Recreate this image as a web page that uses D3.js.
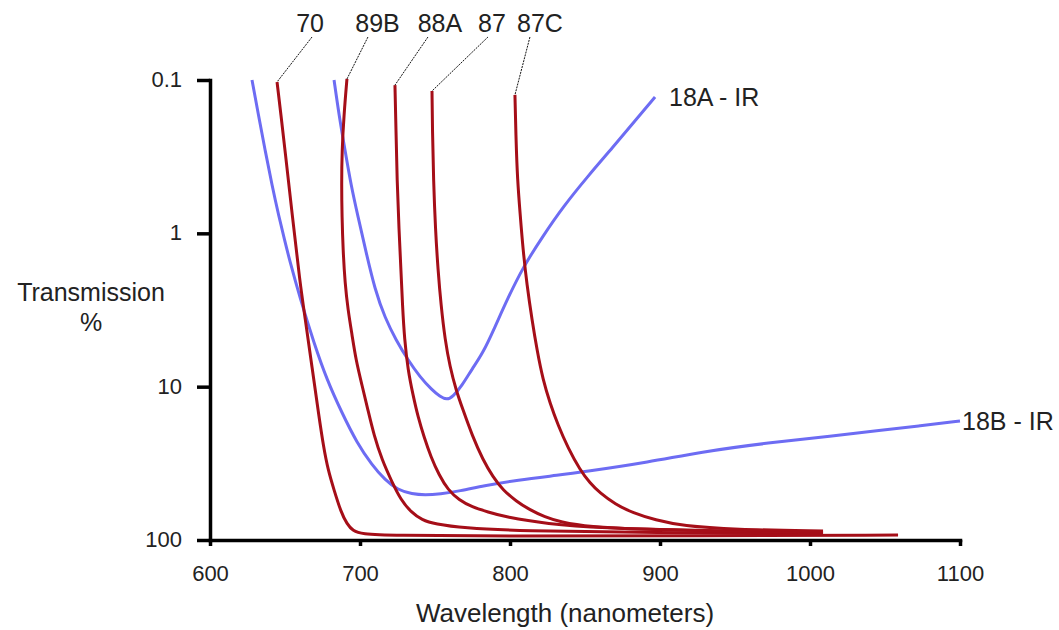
<!DOCTYPE html>
<html>
<head>
<meta charset="utf-8">
<script src="https://cdn.jsdelivr.net/npm/d3@7"></script>
<style>
  body { margin: 0; background: #fff; }
  svg { font-family: "Liberation Sans", Arial, sans-serif; }
</style>
</head>
<body>
<div id="chart"></div>
<script>
// [wavelength nm, transmission %]
const ir18A = [[682.7, 0.1], [686, 0.169], [690, 0.286], [694, 0.484], [698.7, 0.782], [704, 1.32],
  [710, 2.34], [716.7, 3.57], [724, 4.96], [732, 6.70], [740, 8.65], [748, 10.5], [753.3, 11.6],
  [758, 12.2], [762, 11.6], [768, 9.85], [774.7, 7.67], [782, 6.03], [790, 4.08], [798, 2.72],
  [808.7, 1.66], [822, 1.04], [835.3, 0.673], [852, 0.423], [868.7, 0.274], [883.3, 0.185], [896.7, 0.129]];
const ir18B = [[628, 0.1], [632.3, 0.169], [636.7, 0.286], [641.3, 0.484], [646, 0.782], [649.7, 1.105],
  [653, 1.49], [660, 2.64], [669.3, 5.19], [678, 9.05], [688, 14.85], [698, 23.3], [708, 32.4],
  [716.7, 40.6], [725.3, 47.2], [734.7, 50.1], [743.3, 50.9], [753.3, 50.1], [766.7, 47.9], [782, 44.4],
  [804.7, 40.6], [833.3, 37.7], [848.7, 36.0], [893.3, 31.0], [926.7, 26.7], [970.7, 23.3],
  [1015.3, 21.0], [1046.7, 19.2], [1073.3, 18.05], [1100, 16.75]];

const f70 = [[644.7, 0.103], [647.3, 0.169], [650, 0.286], [655, 0.782], [660, 2.11], [663.3, 3.51],
  [668, 7.44], [672.7, 15.8], [675.7, 24.7], [678.7, 34.9], [682.7, 47.2], [687.3, 65.7], [691.3, 78.6],
  [695.3, 87.4], [701.3, 91.4], [720, 93.5], [793.3, 94.2], [926.7, 94.2], [1058.7, 92.8]];
const f89B = [[691.3, 0.0985], [689.3, 0.169], [688, 0.286], [687.7, 0.484], [688, 0.782], [688.7, 1.284],
  [690, 2.11], [692, 3.16], [694.7, 4.60], [697.3, 6.70], [701.3, 9.75], [705.3, 14.2], [709.3, 20.7],
  [714.7, 30.1], [721.3, 41.8], [727.3, 54.8], [734, 65.7], [741.3, 74.0], [750, 78.6], [768.7, 83.5],
  [806.7, 87.4], [893.3, 89.4], [1008.7, 91.4]];
const f88A = [[723.3, 0.108], [724, 0.212], [724.7, 0.449], [726, 0.95], [727.3, 1.73], [728.3, 2.93],
  [729.7, 4.96], [732, 7.79], [735.3, 11.3], [738.7, 15.8], [742.7, 21.3], [747.3, 28.8], [752.7, 37.7],
  [758.7, 47.2], [766, 54.8], [774.7, 61.0], [785.3, 65.7], [796.7, 70.8], [824.7, 78.6], [860, 83.5],
  [926.7, 86.7], [1008.7, 90.0]];
const f87 = [[748, 0.118], [748.3, 0.212], [749, 0.449], [750.3, 0.95], [752, 1.73], [754, 2.93],
  [756.7, 4.96], [760, 7.44], [764, 10.5], [768.7, 14.2], [774.7, 20.7], [782, 30.1], [788.7, 38.8],
  [795.3, 47.2], [804, 55.7], [813.3, 63.7], [823.3, 70.8], [833.3, 76.3], [853.3, 82.3], [886.7, 85.4],
  [940, 87.4], [1008.7, 88.7]];
const f87C = [[803.3, 0.125], [804, 0.246], [805, 0.449], [806.7, 0.736], [808.7, 1.284], [811.3, 2.17],
  [814.7, 3.68], [818, 5.77], [822, 9.05], [826.7, 12.8], [832, 17.8], [838.7, 25.1], [846.7, 34.9],
  [853.3, 42.5], [860, 49.4], [870, 58.3], [882, 66.7], [896.7, 74.0], [915.3, 81.0], [948.7, 85.4],
  [1008.7, 87.4]];

const filterNames = ['70', '89B', '88A', '87', '87C'];
const filterLabelNm = [666.7, 711.7, 753.3, 788, 820];
const filterLeaderNm = [668, 705.3, 745.3, 785.3, 813.3];
const filterSeries = [f70, f89B, f88A, f87, f87C];

const irNames = ['18A - IR', '18B - IR'];
const irSeries = [ir18A, ir18B];

const xTicks = [600, 700, 800, 900, 1000, 1100];
const yTicks = [0.1, 1, 10, 100];

const width = 1059;
const height = 630;
const red = '#a50e18';
const blue = '#6d6cf3';

const x = d3.scaleLinear().domain([600, 1100]).range([210, 960]);
const y = d3.scaleLog().domain([0.1, 100]).range([80, 540]);

const svg = d3.select('#chart').append('svg')
    .attr('width', width)
    .attr('height', height);

const line = d3.line()
    .x((d) => x(d[0]))
    .y((d) => y(d[1]))
    .curve(d3.curveBasis);

// blue IR curves
svg.selectAll('.ir')
    .data(irSeries)
  .enter()
    .append('path')
    .attr('class', 'ir')
    .attr('d', line)
    .attr('fill', 'none')
    .attr('stroke', blue)
    .attr('stroke-width', 3);

// red filter curves
svg.selectAll('.filter')
    .data(filterSeries)
  .enter()
    .append('path')
    .attr('class', 'filter')
    .attr('d', line)
    .attr('fill', 'none')
    .attr('stroke', red)
    .attr('stroke-width', 3);

// axes
const xAxis = svg.append('g')
    .attr('transform', `translate(0,${y(100)})`)
    .call(d3.axisBottom(x).tickValues(xTicks).tickFormat(d3.format('d'))
      .tickSize(6).tickSizeOuter(0).tickPadding(19));

const yAxis = svg.append('g')
    .attr('transform', `translate(${x(600)},0)`)
    .call(d3.axisLeft(y).tickValues(yTicks).tickFormat((d) => String(d))
      .tickSize(13).tickSizeOuter(0).tickPadding(15));

[xAxis, yAxis].forEach((g) => {
  g.select('.domain').attr('stroke', '#000').attr('stroke-width', 3.5).attr('stroke-linecap', 'square');
  g.selectAll('.tick line').attr('stroke', '#000').attr('stroke-width', 3.5);
  g.selectAll('.tick text')
      .attr('fill', '#222')
      .style('font-size', '22px')
      .style('font-family', '"Liberation Sans", Arial, sans-serif');
});
yAxis.selectAll('.tick text').attr('dy', '0.3em');

// axis titles
svg.append('text')
    .attr('x', 565)
    .attr('y', 622)
    .attr('text-anchor', 'middle')
    .attr('fill', '#222')
    .style('font-size', '26px')
    .text('Wavelength (nanometers)');

svg.append('text')
    .attr('x', 91)
    .attr('y', 301)
    .attr('text-anchor', 'middle')
    .attr('fill', '#222')
    .style('font-size', '25px')
    .text('Transmission');
svg.append('text')
    .attr('x', 91)
    .attr('y', 331)
    .attr('text-anchor', 'middle')
    .attr('fill', '#222')
    .style('font-size', '25px')
    .text('%');

// filter labels with leader lines
filterSeries.forEach((s, i) => {
  svg.append('line')
      .attr('x1', x(filterLeaderNm[i]))
      .attr('y1', 37)
      .attr('x2', x(s[0][0]))
      .attr('y2', y(s[0][1]))
      .attr('stroke', '#111')
      .attr('stroke-width', 1)
      .attr('stroke-dasharray', '2,1');

  svg.append('text')
      .attr('x', x(filterLabelNm[i]))
      .attr('y', 32)
      .attr('text-anchor', 'middle')
      .attr('fill', '#222')
      .style('font-size', '25px')
      .text(filterNames[i]);
});

// IR labels at curve ends
const irOffsets = [14, 2];
irSeries.forEach((s, i) => {
  const last = s[s.length - 1];
  svg.append('text')
      .attr('x', x(last[0]) + irOffsets[i])
      .attr('y', y(last[1]))
      .attr('dy', '0.36em')
      .attr('fill', '#222')
      .style('font-size', '25px')
      .text(irNames[i]);
});
</script>
</body>
</html>
